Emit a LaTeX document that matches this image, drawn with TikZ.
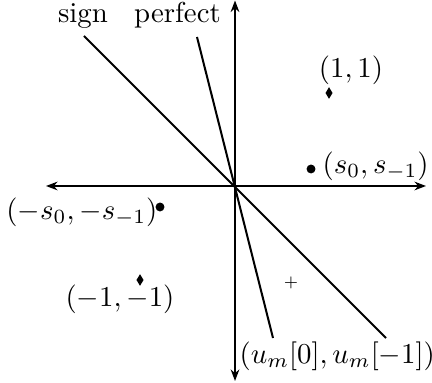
\documentclass[tikz,border=0pt]{standalone}
\usetikzlibrary{shapes.geometric,arrows.meta}
\begin{document}
\begin{tikzpicture}[x=0.347pt,y=-0.347pt,
  ln/.style={line width=0.7pt},
  ax/.style={line width=0.7pt,{Stealth[length=4pt,width=3pt,inset=1.3pt]}-{Stealth[length=4pt,width=3pt,inset=1.3pt]}},
  dmd/.style={diamond,fill=black,inner sep=0pt,minimum width=2.6pt,minimum height=4.2pt,aspect=0.6},
  dotpt/.style={circle,fill=black,inner sep=0pt,minimum size=3.1pt},
  lbl/.style={inner sep=0pt}]
\useasboundingbox (0,0) rectangle (432,383);
% axes
\coordinate (O) at (235,186);
\coordinate (yt) at (235,0.5);
\coordinate (yb) at (235,381);
\coordinate (xl) at (46,186);
\coordinate (xr) at (426,186);
\draw[ax] (xl) -- (xr);
\draw[ax] (yt) -- (yb);
% lines
\coordinate (s1) at (84,36);
\coordinate (s2) at (386,338);
\coordinate (p1) at (197,37);
\coordinate (p2) at (273,338);
\draw[ln] (s1) -- (s2);
\draw[ln] (p1) -- (p2);
% labels at top
\node[lbl,anchor=base] (sign) at (83,23) {sign};
\node[lbl,anchor=base] (perf) at (177.5,23) {perfect};
% points
\node[dmd] (d1) at (329,93) {};
\node[lbl] (l1) at (351,70) {$(1,1)$};
\node[dotpt] (c1) at (311,169) {};
\node[lbl,anchor=west] (lc1) at (322,166) {$(s_0,s_{-1})$};
\node[dotpt] (c2) at (160,207) {};
\node[lbl,anchor=east] (lc2) at (158,212) {$(-s_0,-s_{-1})$};
\node[dmd] (d2) at (140,280) {};
\node[lbl] (l2) at (120,299) {$(-1,-1)$};
\node[lbl] (pl) at (291,283) {\tiny$+$};
\node[lbl,anchor=west] (um) at (239,356) {$(u_m[0],u_m[-1])$};
\end{tikzpicture}
\end{document}
